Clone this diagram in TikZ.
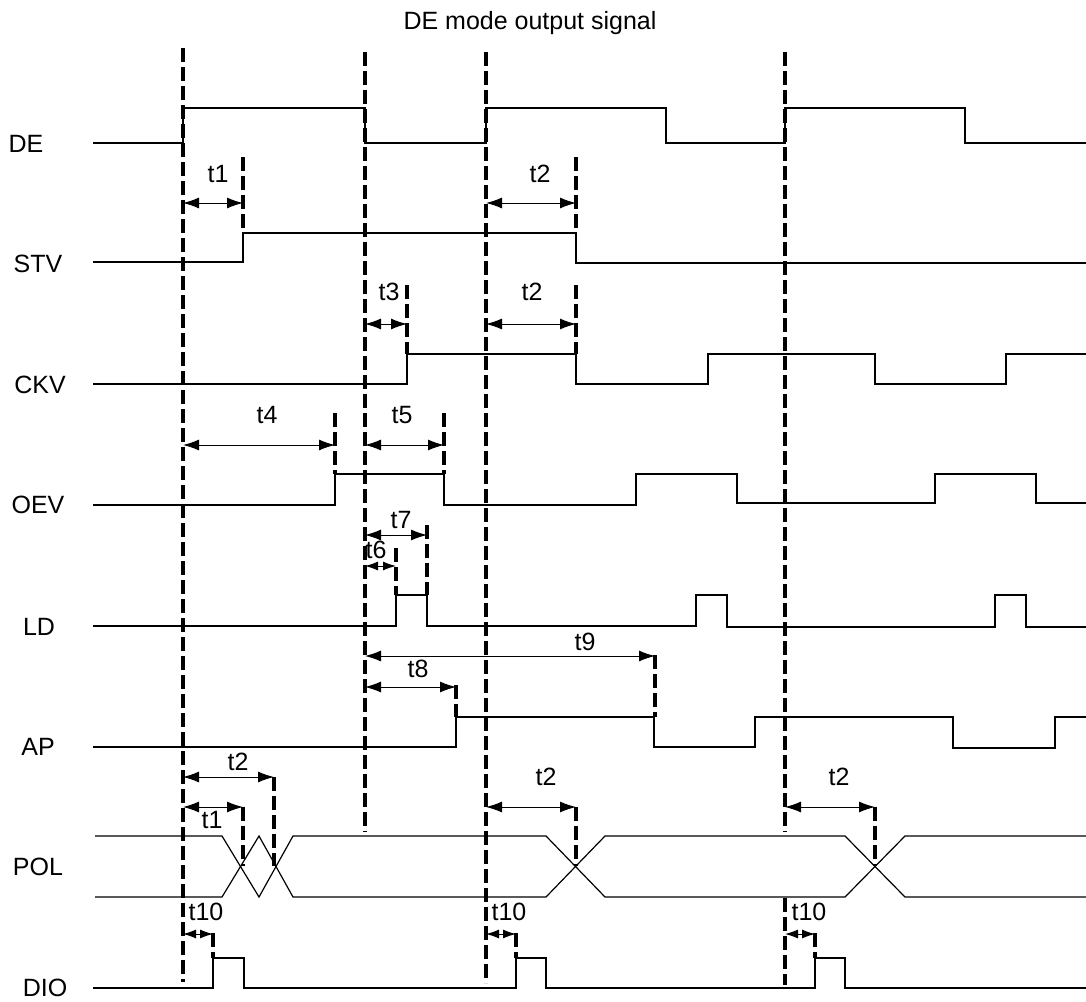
\documentclass[tikz,border=0pt]{standalone}
\usepackage{fontspec}
\setmainfont{Liberation Sans}
\usepackage{tikz}
\usetikzlibrary{arrows.meta,calc}
\tikzstyle{wave} = [draw, line width=1.2pt, line join=miter]
\tikzstyle{guide} = [draw, line width=3.2pt, dash pattern=on 14pt off 5pt]
\tikzstyle{span} = [draw, line width=1pt, {Latex[length=16pt,width=11pt]}-{Latex[length=16pt,width=11pt]}]
\tikzstyle{shortspan} = [draw, line width=1pt, {Latex[length=13pt,width=9pt]}-{Latex[length=13pt,width=9pt]}]

\begin{document}
\begin{tikzpicture}[x=1pt, y=-1pt, every node/.style={font=\fontsize{25}{30}\selectfont, inner sep=0pt}]
      \useasboundingbox (0,0) rectangle (1086,1001);

      \node (title) at (530,29) [anchor=base] {DE mode output signal};

      \node (de)  at (26,152) [anchor=base] {DE};
      \node (stv) at (38,272) [anchor=base] {STV};
      \node (ckv) at (40,393) [anchor=base] {CKV};
      \node (oev) at (38,513) [anchor=base] {OEV};
      \node (ld)  at (39,635) [anchor=base] {LD};
      \node (ap)  at (38,755) [anchor=base] {AP};
      \node (pol) at (38,875) [anchor=base] {POL};
      \node (dio) at (45,996) [anchor=base] {DIO};

      \draw[wave] (93,143) -- (183,143) -- (183,108) -- (365,108) -- (365,143) -- (486,143) -- (486,108) -- (666,108) -- (666,143) -- (785,143) -- (785,108) -- (965,108) -- (965,143) -- (1086,143);
      \draw[wave] (93,262) -- (243,262) -- (243,233) -- (576,233) -- (576,263) -- (1086,263);
      \draw[wave] (93,384) -- (407,384) -- (407,354) -- (576,354) -- (576,384) -- (708,384) -- (708,354) -- (875,354) -- (875,384) -- (1006,384) -- (1006,354) -- (1086,354);
      \draw[wave] (93,505) -- (335,505) -- (335,474) -- (444,474) -- (444,505) -- (636,505) -- (636,474) -- (737,474) -- (737,503) -- (935,503) -- (935,474) -- (1036,474) -- (1036,503) -- (1086,503);
      \draw[wave] (93,626) -- (396,626) -- (396,595) -- (427,595) -- (427,626) -- (696,626) -- (696,595) -- (727,595) -- (727,627) -- (995,627) -- (995,595) -- (1026,595) -- (1026,627) -- (1086,627);
      \draw[wave] (93,747) -- (456,747) -- (456,717) -- (654,717) -- (654,747) -- (755,747) -- (755,717) -- (953,717) -- (953,748) -- (1055,748) -- (1055,717) -- (1086,717);
      \draw[wave] (95,836) -- (222,836) -- (259,897) -- (293,836) -- (546,836) -- (605,897) -- (845,897) -- (905,836) -- (1086,836);
      \draw[wave] (95,897) -- (222,897) -- (259,836) -- (293,897) -- (546,897) -- (605,836) -- (845,836) -- (905,897) -- (1086,897);
      \draw[wave] (93,988) -- (213,988) -- (213,958) -- (244,958) -- (244,988) -- (516,988) -- (516,958) -- (546,958) -- (546,988) -- (815,988) -- (815,958) -- (845,958) -- (845,988) -- (1086,988);

      \draw[guide] (183,48) -- (183,982);
      \draw[guide] (365,52) -- (365,832);
      \draw[guide] (486,52) -- (486,983);
      \draw[guide] (785,52) -- (785,832);
      \draw[guide] (785,898) -- (785,985);

      \draw[guide] (243,157) -- (243,233);
      \draw[guide] (576,157) -- (576,233);
      \draw[guide] (407,285) -- (407,354);
      \draw[guide] (576,285) -- (576,354);
      \draw[guide] (335,413) -- (335,474);
      \draw[guide] (444,413) -- (444,474);
      \draw[guide] (427,525) -- (427,595);
      \draw[guide] (396,548) -- (396,595);
      \draw[guide] (655,655) -- (655,717);
      \draw[guide] (456,685) -- (456,717);
      \draw[guide] (274,777) -- (274,866);
      \draw[guide] (243,807) -- (243,866);
      \draw[guide] (576,807) -- (576,866);
      \draw[guide] (875,807) -- (875,866);
      \draw[guide] (213,933) -- (213,958);
      \draw[guide] (516,933) -- (516,958);
      \draw[guide] (815,933) -- (815,958);

      \draw[span] (183,203) -- (243,203);
      \draw[span] (486,203) -- (576,203);
      \draw[span] (365,324) -- (407,324);
      \draw[span] (486,324) -- (576,324);
      \draw[span] (183,445) -- (335,445);
      \draw[span] (365,445) -- (444,445);
      \draw[span] (365,535) -- (427,535);
      \draw[shortspan] (365,566) -- (396,566);
      \draw[span] (365,656) -- (655,656);
      \draw[span] (365,687) -- (456,687);
      \draw[span] (183,777) -- (274,777);
      \draw[span] (183,807) -- (243,807);
      \draw[span] (486,807) -- (576,807);
      \draw[span] (785,807) -- (875,807);
      \draw[shortspan] (183,934) -- (213,934);
      \draw[shortspan] (486,934) -- (516,934);
      \draw[shortspan] (785,934) -- (815,934);

      \node (t1a)  at (218,182) [anchor=base] {t1};
      \node (t2a)  at (540,182) [anchor=base] {t2};
      \node (t3)   at (389,300) [anchor=base] {t3};
      \node (t2b)  at (532,300) [anchor=base] {t2};
      \node (t4)   at (267,423) [anchor=base] {t4};
      \node (t5)   at (402,423) [anchor=base] {t5};
      \node (t7)   at (401,528) [anchor=base] {t7};
      \node (t6)   at (376,558) [anchor=base] {t6};
      \node (t9)   at (585,650) [anchor=base] {t9};
      \node (t8)   at (418,677) [anchor=base] {t8};
      \node (t2c)  at (238,770) [anchor=base] {t2};
      \node (t1b)  at (212,828) [anchor=base] {t1};
      \node (t2d)  at (546,785) [anchor=base] {t2};
      \node (t2e)  at (839,785) [anchor=base] {t2};
      \node (t10a) at (206,920) [anchor=base] {t10};
      \node (t10b) at (509,920) [anchor=base] {t10};
      \node (t10c) at (809,920) [anchor=base] {t10};
    \end{tikzpicture}
\end{document}
